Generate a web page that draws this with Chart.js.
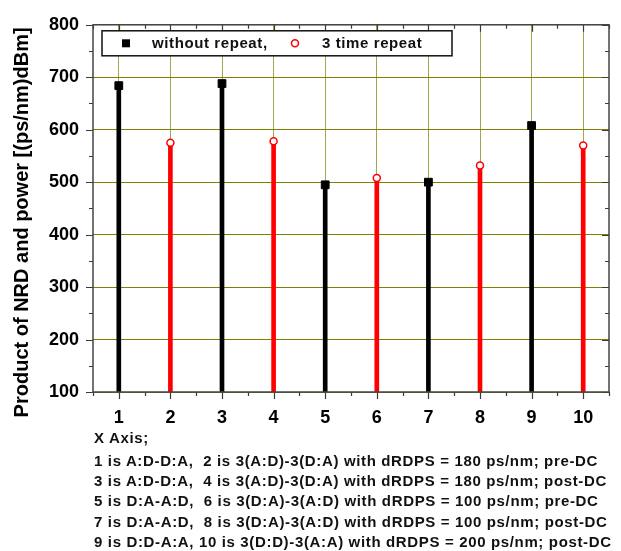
<!DOCTYPE html>
<html lang="en">
<head>
    <meta charset="UTF-8">
    <title>Product of NRD and power</title>
    <script src="https://cdn.jsdelivr.net/npm/chart.js"></script>
    <style>
        body {
            margin: 0;
            background: #fff;
        }
        .wrap {
            position: relative;
            width: 621px;
            height: 551px;
        }
        .notes {
            position: absolute;
            left: 94px;
            top: 428px;
            font-family: "Liberation Sans", Arial, sans-serif;
            font-weight: bold;
            font-size: 15px;
            letter-spacing: 0.65px;
            line-height: 20.3px;
            color: #111;
            white-space: pre;
        }
        .notes .head {
            margin-bottom: 2.4px;
        }
    </style>
</head>
<body>
    <div class="wrap">
        <canvas id="chart" width="621" height="551"></canvas>
        <div class="notes" id="notes"></div>
    </div>

    <script>
        // x positions and values
        const xWithout = [1, 3, 5, 7, 9];
        const yWithout = [684, 688, 495, 500, 608];
        const xRepeat = [2, 4, 6, 8, 10];
        const yRepeat = [575, 578, 508, 532, 570];
        const stemBase = 100;

        const xTicks = [1, 2, 3, 4, 5, 6, 7, 8, 9, 10];
        const yTicks = [100, 200, 300, 400, 500, 600, 700, 800];

        const seriesLabels = ['without repeat,', '3 time repeat'];
        const yTitle = 'Product of NRD and power [(ps/nm)dBm]';
        const noteLines = [
            'X Axis;',
            '1 is A:D-D:A,  2 is 3(A:D)-3(D:A) with dRDPS = 180 ps/nm; pre-DC',
            '3 is A:D-D:A,  4 is 3(A:D)-3(D:A) with dRDPS = 180 ps/nm; post-DC',
            '5 is D:A-A:D,  6 is 3(D:A)-3(A:D) with dRDPS = 100 ps/nm; pre-DC',
            '7 is D:A-A:D,  8 is 3(D:A)-3(A:D) with dRDPS = 100 ps/nm; post-DC',
            '9 is D:D-A:A, 10 is 3(D:D)-3(A:A) with dRDPS = 200 ps/nm; post-DC'
        ];

        const FONT = '"Liberation Sans", Arial, sans-serif';
        Chart.defaults.font.family = FONT;
        Chart.defaults.color = '#000';

        const notesDiv = document.getElementById('notes');
        notesDiv.innerHTML = noteLines.map((t, i) =>
            `<div class="${i === 0 ? 'head' : ''}">${t}</div>`).join('');

        // frame, tick marks and rotated axis title
        const framePlugin = {
            id: 'frame',
            afterDatasetsDraw(chart) {
                const { ctx, chartArea: a, scales: { x, y } } = chart;
                ctx.save();
                ctx.strokeStyle = '#3a3a3a';
                ctx.lineWidth = 1.2;
                ctx.beginPath();
                const yStep = yTicks[1] - yTicks[0];
                for (let v = yTicks[0]; v <= yTicks[yTicks.length - 1]; v += yStep / 2) {
                    const len = (v - yTicks[0]) % yStep === 0 ? 7 : 4;
                    const py = Math.round(y.getPixelForValue(v)) + 0.5;
                    ctx.moveTo(a.left - len, py); ctx.lineTo(a.left, py);
                    ctx.moveTo(a.right, py); ctx.lineTo(a.right - len, py);
                }
                for (let v = x.min; v <= x.max + 0.01; v += 0.5) {
                    const len = Number.isInteger(v) ? 7 : 4;
                    const px = Math.round(x.getPixelForValue(v)) + 0.5;
                    ctx.moveTo(px, a.bottom); ctx.lineTo(px, a.bottom + len);
                    ctx.moveTo(px, a.top); ctx.lineTo(px, a.top + len);
                }
                ctx.stroke();
                ctx.lineWidth = 1.5;
                ctx.strokeStyle = '#444';
                ctx.strokeRect(a.left, a.top, a.right - a.left, a.bottom - a.top);

                // y axis title
                ctx.translate(22, (a.top + a.bottom) / 2 + 14);
                ctx.rotate(-Math.PI / 2);
                ctx.fillStyle = '#000';
                ctx.font = 'bold 20px ' + FONT;
                ctx.textAlign = 'center';
                ctx.textBaseline = 'middle';
                ctx.fillText(yTitle, 0, 0);
                ctx.restore();
            }
        };

        // legend box inside the plot, top left
        const legendPlugin = {
            id: 'boxLegend',
            afterDraw(chart) {
                const { ctx, chartArea: a } = chart;
                const bx = a.left + 9, by = a.top + 6, bw = 350, bh = 25;
                const cy = by + bh / 2;
                ctx.save();
                ctx.fillStyle = '#fff';
                ctx.fillRect(bx, by, bw, bh);
                ctx.strokeStyle = '#111';
                ctx.lineWidth = 1.5;
                ctx.strokeRect(bx, by, bw, bh);

                ctx.fillStyle = '#000';
                ctx.fillRect(bx + 20, cy - 4, 8, 8);
                ctx.beginPath();
                ctx.arc(bx + 193, cy, 3.5, 0, Math.PI * 2);
                ctx.fillStyle = '#fff';
                ctx.fill();
                ctx.strokeStyle = '#ff0000';
                ctx.lineWidth = 1.5;
                ctx.stroke();

                ctx.fillStyle = '#111';
                ctx.font = 'bold 15px ' + FONT;
                ctx.letterSpacing = '0.6px';
                ctx.textBaseline = 'middle';
                ctx.fillText(seriesLabels[0], bx + 50, cy + 1);
                ctx.fillText(seriesLabels[1], bx + 220, cy + 1);
                ctx.restore();
            }
        };

        new Chart(document.getElementById('chart'), {
            type: 'bar',
            data: {
                datasets: [
                    {
                        type: 'scatter',
                        label: seriesLabels[0],
                        data: xWithout.map((v, i) => ({ x: v, y: yWithout[i] })),
                        pointStyle: 'rect',
                        pointRadius: 5.5,
                        backgroundColor: '#000',
                        borderColor: '#000',
                        borderWidth: 1,
                        order: 0
                    },
                    {
                        type: 'scatter',
                        label: seriesLabels[1],
                        data: xRepeat.map((v, i) => ({ x: v, y: yRepeat[i] })),
                        pointStyle: 'circle',
                        pointRadius: 3.5,
                        backgroundColor: '#fff',
                        borderColor: '#ff0000',
                        borderWidth: 1.5,
                        order: 0
                    },
                    {
                        label: 'stems without',
                        data: xWithout.map((v, i) => ({ x: v, y: [stemBase, yWithout[i]] })),
                        backgroundColor: '#000',
                        barThickness: 4,
                        grouped: false,
                        order: 1
                    },
                    {
                        label: 'stems repeat',
                        data: xRepeat.map((v, i) => ({ x: v, y: [stemBase, yRepeat[i]] })),
                        backgroundColor: '#ff0000',
                        barThickness: 4,
                        grouped: false,
                        order: 1
                    }
                ]
            },
            options: {
                responsive: false,
                animation: false,
                devicePixelRatio: 1,
                layout: { padding: { top: 15, right: 12, left: 0, bottom: 0 } },
                plugins: {
                    legend: { display: false },
                    tooltip: { enabled: false }
                },
                scales: {
                    x: {
                        type: 'linear',
                        min: 0.5,
                        max: 10.5,
                        offset: false,
                        afterBuildTicks: s => { s.ticks = xTicks.map(v => ({ value: v })); },
                        afterFit: s => { s.height = 159; },
                        grid: { color: 'rgba(128,128,0,0.7)', lineWidth: 1, drawTicks: false, offset: false },
                        border: { display: false },
                        ticks: {
                            font: { size: 18, weight: 'bold' },
                            padding: 15,
                            maxRotation: 0
                        }
                    },
                    y: {
                        min: 100,
                        max: 800,
                        afterBuildTicks: s => { s.ticks = yTicks.map(v => ({ value: v })); },
                        afterFit: s => { s.width = 93; },
                        grid: { color: '#808000', lineWidth: 1, drawTicks: false },
                        border: { display: false },
                        ticks: {
                            font: { size: 18, weight: 'bold' },
                            padding: 14
                        }
                    }
                }
            },
            plugins: [framePlugin, legendPlugin]
        });
    </script>
</body>
</html>
